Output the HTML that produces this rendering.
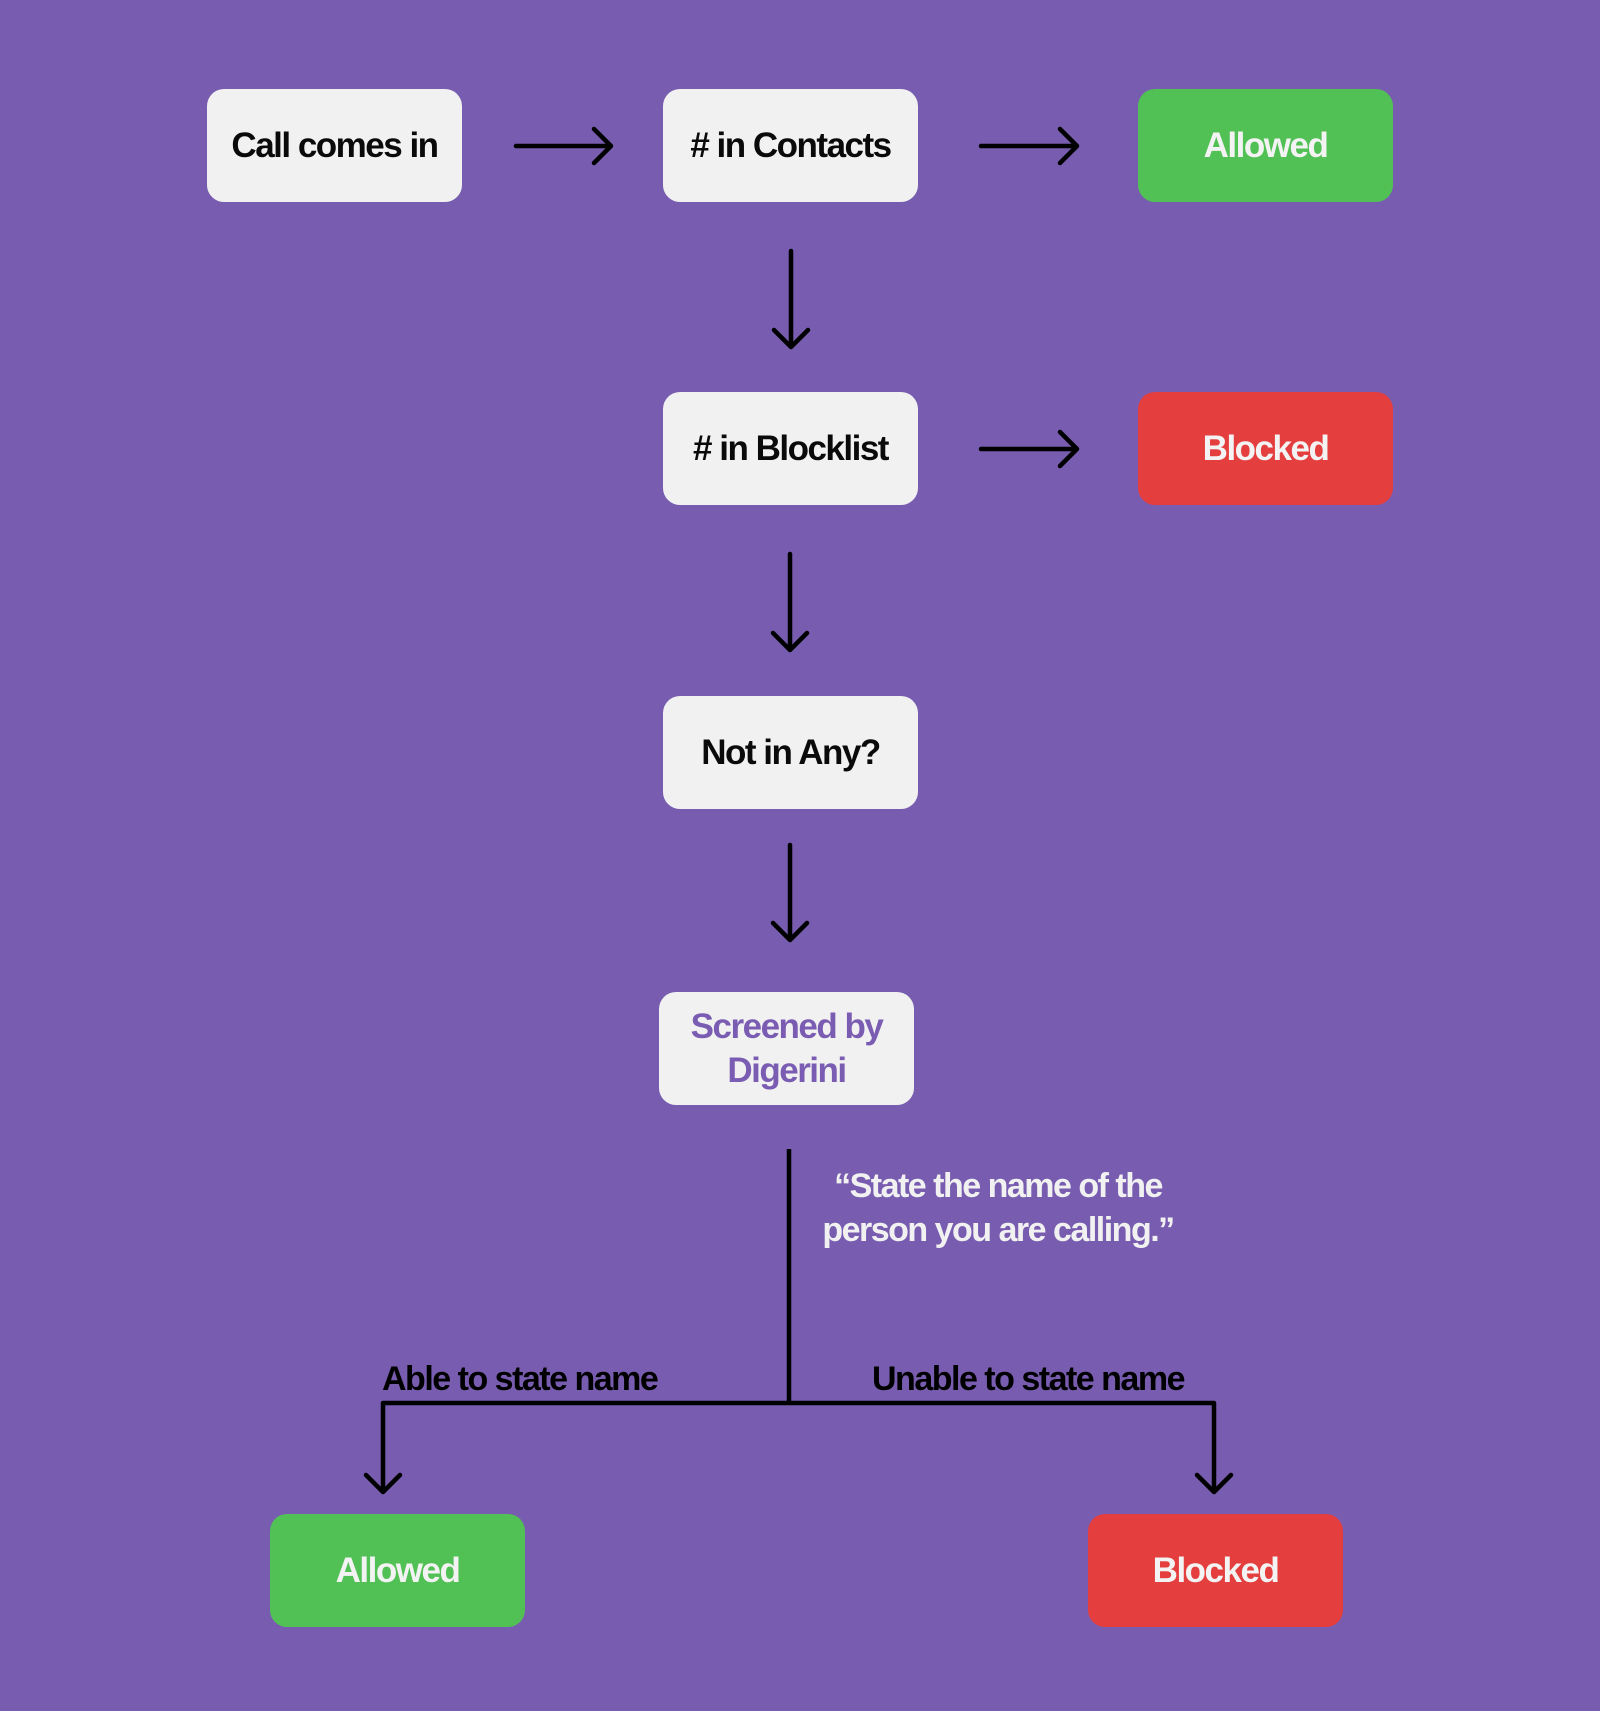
<!DOCTYPE html>
<html><head><meta charset="utf-8"><style>
html,body{margin:0;padding:0}
body{width:1600px;height:1711px;background:#785cb0;position:relative;overflow:hidden;font-family:"Liberation Sans",Arial,sans-serif}
.b{position:absolute;width:255px;height:113px;border-radius:17px;background:#f1f1f1;display:flex;align-items:center;justify-content:center;text-align:center;font-weight:bold;font-size:35px;letter-spacing:-1.5px;color:#0a0a0a;line-height:44px}
.g{background:#52c155;color:#f3f3f3}
.r{background:#e43e3e;color:#f3f3f3}
.t{position:absolute;font-weight:bold;font-size:34px;letter-spacing:-1.5px;white-space:nowrap}
svg{position:absolute;left:0;top:0}
</style></head><body>
<svg width="1600" height="1711" fill="none" stroke="#000" stroke-width="4.5" stroke-linecap="round" stroke-linejoin="round">
<path d="M516 146H611M594 129L611 146L594 163"/>
<path d="M981 146H1077M1060 129L1077 146L1060 163"/>
<path d="M981 449H1077M1060 432L1077 449L1060 466"/>
<path d="M791 251V347M774 330L791 347L808 330"/>
<path d="M790 554V650M773 633L790 650L807 633"/>
<path d="M790 845V940M773 923L790 940L807 923"/>
<path d="M789 1149V1403" stroke-linecap="butt"/>
<path d="M383 1492V1403H1214V1492M366 1475L383 1492L400 1475M1197 1475L1214 1492L1231 1475"/>
</svg>
<div class="b" style="left:207px;top:89px">Call comes in</div>
<div class="b" style="left:663px;top:89px"># in Contacts</div>
<div class="b g" style="left:1138px;top:89px">Allowed</div>
<div class="b" style="left:663px;top:392px"># in Blocklist</div>
<div class="b r" style="left:1138px;top:392px">Blocked</div>
<div class="b" style="left:663px;top:696px">Not in Any?</div>
<div class="b" style="left:659px;top:992px;color:#7a5cb2">Screened by<br>Digerini</div>
<div class="t" style="left:808px;top:1164px;color:#f1f1f1;text-align:center;line-height:44px;width:380px;">“State the name of the<br>person you are calling.”</div>
<div class="t" style="left:382px;top:1360px;color:#000">Able to state name</div>
<div class="t" style="left:872px;top:1360px;color:#000">Unable to state name</div>
<div class="b g" style="left:270px;top:1514px">Allowed</div>
<div class="b r" style="left:1088px;top:1514px">Blocked</div>
</body></html>
